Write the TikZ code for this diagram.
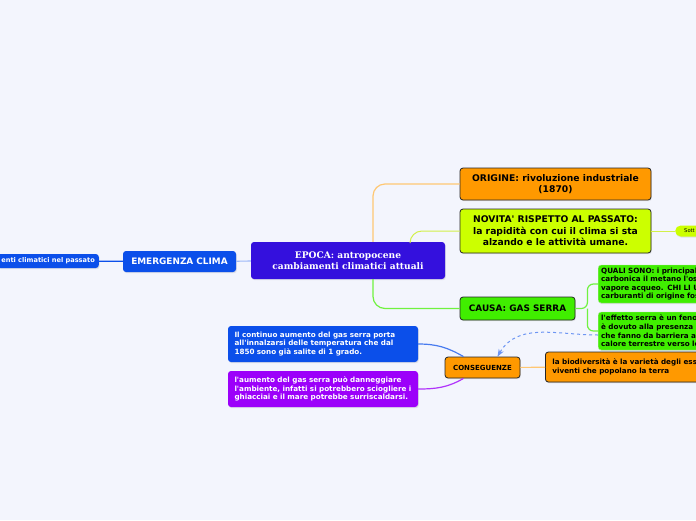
\documentclass[tikz,border=0pt]{standalone}
\usepackage{fontspec}
\newfontfamily\mapfont{DejaVu Sans}
\newfontfamily\titlefont{DejaVu Serif}
\usetikzlibrary{calc,positioning,shadows,arrows.meta}
\definecolor{bgcol}{HTML}{F3F5FD}
\definecolor{mapblue}{HTML}{0B4FEA}
\definecolor{epocacol}{HTML}{3410DD}
\definecolor{mapor}{HTML}{FF9900}
\definecolor{maplime}{HTML}{CCFF00}
\definecolor{limeline}{HTML}{D2F04A}
\definecolor{mapgreen}{HTML}{40EE00}
\definecolor{mappurple}{HTML}{9C00FA}
\tikzset{
   topic/.style={ rectangle, rounded corners=3pt, text centered, inner sep=2pt,
      drop shadow={opacity=0.18, shadow xshift=0.8pt, shadow yshift=-1.2pt}},
   boxed/.style={ topic, draw=black!85, thick},
   big text/.style={ font=\mapfont\bfseries\fontsize{9.2}{11.5}\selectfont},
   small text/.style={ font=\mapfont\bfseries\fontsize{7.2}{8.6}\selectfont},
   cut box/.style={ topic, anchor=west, align=left, text width=150pt, inner xsep=3pt, small text},
   note box/.style={ topic, text=white, minimum height=36pt, text width=177pt, inner xsep=6.5pt, align=left, small text},
   link/.style={ line width=1.2pt, rounded corners=12pt},
   >=Stealth
}

\begin{document}
\begin{tikzpicture}[x=1pt,y=-1pt]
  \fill[bgcol] (0,0) rectangle (696,520);
  \useasboundingbox (0,0) rectangle (696,520);

  \node[topic, fill=mapblue, text=white, anchor=east, minimum height=14pt, inner xsep=4pt,
        font=\mapfont\bfseries\fontsize{6.6}{7}\selectfont] at (99,261) (past) {enti climatici nel passato};
  \node[topic, fill=mapblue, text=white, minimum width=113pt, minimum height=21pt,
        font=\mapfont\bfseries\fontsize{8.9}{10}\selectfont] at (179.5,261.5) (emergenza) {EMERGENZA CLIMA};

  \node[topic, fill=epocacol, text=white, minimum width=194pt, minimum height=37pt, align=center,
        font=\titlefont\bfseries\fontsize{9.1}{11.5}\selectfont] at (348,260.5) (epoca) {EPOCA: antropocene\\cambiamenti climatici attuali};

  \node[boxed, fill=mapor, minimum width=191pt, minimum height=32pt, align=center, big text] at (555.5,184) (origine) {ORIGINE: rivoluzione industriale\\(1870)};
  \node[boxed, fill=maplime, minimum width=191pt, minimum height=44pt, align=center, big text] at (555.5,231) (novita) {NOVITA' RISPETTO AL PASSATO:\\la rapidità con cui il clima si sta\\alzando e le attività umane.};
  \node[topic, fill=maplime, anchor=west, minimum width=40pt, minimum height=11pt, rounded corners=5.5pt, inner xsep=9pt,
        font=\mapfont\fontsize{5.2}{6}\selectfont, text width=30pt, align=left] at (675,231) (sott) {Sott};

  \node[boxed, fill=mapgreen, minimum width=115pt, minimum height=23pt,
        font=\mapfont\bfseries\fontsize{8.9}{10}\selectfont] at (517.5,308.5) (causa) {CAUSA: GAS SERRA};
  \node[cut box, fill=mapgreen, draw=mapgreen!80!black!40, minimum height=38pt] at (598,284) (quali) {QUALI SONO: i principal\\carbonica il metano l'os\\vapore acqueo. CHI LI U\\carburanti di origine fos};
  \node[cut box, fill=mapgreen, draw=mapgreen!80!black!40, minimum height=38pt] at (598,331) (effetto) {l'effetto serra è un fenon\\è dovuto alla presenza n\\che fanno da barriera al\\calore terrestre verso lo};

  \node[boxed, fill=mapor, minimum width=75pt, minimum height=21pt,
        font=\mapfont\bfseries\fontsize{7}{8}\selectfont] at (482.5,367.5) (conseguenze) {CONSEGUENZE};
  \node[cut box, boxed, fill=mapor, minimum height=30pt, inner xsep=7pt, text width=170pt, align=left] at (545,367) (biodiv) {la biodiversità è la varietà degli esse\\viventi che popolano la terra};

  \node[note box, fill=mapblue] at (323,344) (continuo) {Il continuo aumento del gas serra porta\\all'innalzarsi delle temperatura che dal\\1850 sono già salite di 1 grado.};
  \node[note box, fill=mappurple] at (323,389) (aumento) {l'aumento del gas serra può danneggiare\\l'ambiente, infatti si potrebbero sciogliere i\\ghiacciai e il mare potrebbe surriscaldarsi.};

  \coordinate (fork) at ($(causa.east)+(12,0)$);

  % connectors
  \draw[link, mapblue] (past) -- (emergenza);
  \draw[link, mapblue!40] (emergenza) -- (epoca);
  \draw[link, mapor!55] ([xshift=25pt]epoca.north) |- (origine.west);
  \draw[link, limeline, line width=1pt] ([xshift=62pt]epoca.north) |- (novita.west);
  \draw[link, mapgreen!75] ([xshift=25pt]epoca.south) |- (causa.west);
  \draw[link, limeline, line width=1pt] (novita) -- (sott);
  \draw[link, mapgreen!75, rounded corners=6pt] (causa.east) -- (fork) |- (quali.west);
  \draw[link, mapgreen!75, rounded corners=6pt] (fork) |- (effetto.west);
  \draw[link, mapor!55] (conseguenze) -- (biodiv);
  \draw[line width=1.2pt, mapblue!75] (continuo.east) to[out=0,in=150] ([xshift=-19pt]conseguenze.north);
  \draw[line width=1.2pt, mappurple!80] (aumento.east) to[out=0,in=-150] ([xshift=-19pt]conseguenze.south);
  \draw[->, line width=1pt, dashed, mapblue!60] ([yshift=-4pt]effetto.west) to[out=180,in=60] ([xshift=15pt]conseguenze.north);
\end{tikzpicture}
\end{document}
